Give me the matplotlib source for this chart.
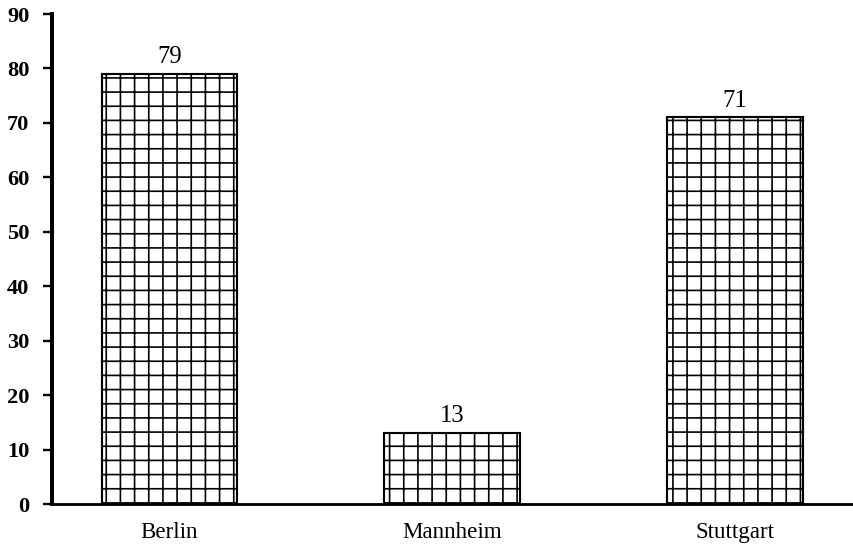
import matplotlib
matplotlib.use("Agg")
import matplotlib.pyplot as plt

categories = ["Berlin", "Mannheim", "Stuttgart"]
values = [79, 13, 71]
yticks = [0, 10, 20, 30, 40, 50, 60, 70, 80, 90]

DPI = 85
plt.rcParams['font.family'] = ['Liberation Serif', 'DejaVu Serif']
plt.rcParams['hatch.linewidth'] = 1.4
plt.rcParams['hatch.color'] = 'black'

fig = plt.figure(figsize=(853 / DPI, 552 / DPI), dpi=DPI)
ax = fig.add_axes([52 / 853, 48 / 552, 1 - 52 / 853, (504 - 14) / 552])

x = list(range(len(categories)))
bars = ax.bar(x, values, width=0.48, facecolor='white', edgecolor='black',
              linewidth=1.8, hatch='+', zorder=2)

for xi, v in zip(x, values):
    ax.annotate(str(v), (xi, v), xytext=(0, 5), textcoords='offset points',
                ha='center', va='bottom', fontsize=21)

ax.set_xlim(-0.4156, 2.417)
ax.set_ylim(0, 90)
ax.set_yticks(yticks)
ax.set_yticklabels([str(t) for t in yticks], fontsize=19, fontweight='bold')
ax.set_xticks(x)
ax.set_xticklabels(categories, fontsize=19.5)

ax.spines['top'].set_visible(False)
ax.spines['right'].set_visible(False)
ax.spines['left'].set_linewidth(3.4)
ax.spines['bottom'].set_linewidth(2.4)
ax.tick_params(axis='y', length=8, width=2, pad=11)
ax.tick_params(axis='x', length=0, pad=15)

fig.savefig("out.png", dpi=DPI)
